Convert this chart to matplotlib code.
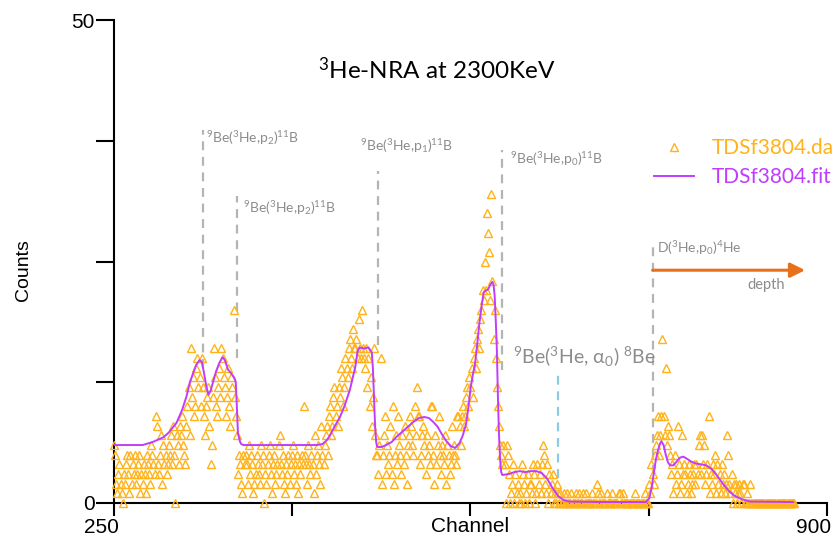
import numpy as np
import matplotlib
matplotlib.use('Agg')
import matplotlib.pyplot as plt
from matplotlib.transforms import ScaledTranslation


# measured counts, one value per channel starting at 250
counts = [
    6, 5, 2, 1, 3, 4, 2, 1, 0, 3,       # 250
    2, 4, 5, 3, 1, 5, 2, 4, 3, 5,       # 260
    2, 3, 4, 5, 1, 3, 2, 4, 3, 1,       # 270
    5, 4, 3, 2, 6, 5, 4, 3, 9, 8,       # 280
    4, 3, 5, 7, 2, 6, 4, 5, 3, 4,       # 290
    6, 5, 7, 4, 8, 5, 0, 7, 6, 4,       # 300
    8, 7, 9, 6, 5, 4, 8, 10, 12, 7,     # 310
    16, 11, 13, 9, 10, 14, 15, 12, 13, 10,  # 320
    15, 12, 9, 7, 10, 11, 12, 8, 4, 6,  # 330
    11, 16, 13, 10, 9, 12, 14, 11, 16, 15,  # 340
    13, 12, 9, 11, 14, 10, 8, 13, 12, 20,   # 350
    11, 9, 7, 3, 5, 4, 2, 1, 5, 4,      # 360
    5, 4, 2, 6, 3, 5, 4, 1, 2, 3,       # 370
    5, 4, 3, 2, 6, 4, 5, 0, 3, 2,       # 380
    4, 5, 6, 3, 1, 4, 5, 2, 3, 4,       # 390
    6, 7, 4, 3, 5, 2, 1, 4, 3, 5,       # 400
    2, 4, 5, 6, 3, 4, 2, 5, 1, 4,       # 410
    3, 5, 4, 10, 5, 4, 2, 6, 4, 3,      # 420
    5, 4, 1, 7, 3, 5, 6, 4, 2, 8,       # 430
    5, 4, 6, 7, 8, 5, 9, 10, 7, 8,      # 440
    11, 12, 9, 10, 8, 12, 11, 14, 13, 10,   # 450
    12, 15, 14, 13, 16, 17, 15, 14, 18, 16,  # 460
    16, 17, 15, 19, 16, 15, 20, 16, 15, 14,  # 470
    16, 12, 15, 10, 13, 8, 11, 16, 7, 5,    # 480
    5, 3, 6, 15, 2, 5, 7, 9, 3, 6,      # 490
    4, 5, 8, 3, 10, 2, 5, 7, 4, 9,      # 500
    6, 5, 3, 7, 4, 8, 5, 2, 6, 7,       # 510
    9, 8, 6, 5, 10, 7, 12, 9, 9, 4,     # 520
    5, 7, 8, 6, 3, 7, 5, 6, 4, 10,      # 530
    10, 5, 2, 7, 4, 6, 9, 5, 3, 6,      # 540
    5, 4, 7, 2, 6, 5, 3, 4, 8, 5,       # 550
    6, 5, 4, 9, 9, 8, 6, 9, 10, 8,      # 560
    9, 11, 12, 10, 13, 12, 14, 11, 15, 16,  # 570
    14, 17, 18, 16, 19, 20, 22, 21, 25, 22,  # 580
    30, 28, 26, 21, 32, 23, 17, 20, 15, 12,  # 590
    10, 8, 6, 5, 4, 6, 4, 0, 6, 5,      # 600
    3, 0, 1, 2, 4, 0, 3, 1, 2, 0,       # 610
    1, 0, 4, 3, 2, 0, 1, 3, 0, 2,       # 620
    2, 1, 4, 3, 0, 1, 4, 2, 3, 1,       # 630
    4, 6, 5, 2, 1, 4, 0, 3, 1, 2,       # 640
    3, 0, 1, 0, 2, 1, 0, 1, 0, 0,       # 650
    1, 0, 0, 1, 0, 0, 0, 1, 0, 0,       # 660
    0, 1, 0, 0, 1, 0, 0, 0, 1, 0,       # 670
    1, 0, 0, 0, 0, 0, 1, 0, 0, 0,       # 680
    2, 1, 0, 0, 1, 0, 0, 0, 0, 1,       # 690
    0, 0, 0, 0, 1, 0, 0, 0, 0, 0,       # 700
    1, 1, 0, 0, 1, 0, 0, 0, 0, 0,       # 710
    0, 0, 0, 0, 0, 1, 0, 0, 0, 0,       # 720
    0, 0, 0, 0, 1, 0, 0, 0, 2, 1,       # 730
    4, 3, 2, 5, 6, 7, 9, 5, 7, 9,       # 740
    17, 9, 7, 14, 6, 8, 7, 5, 3, 4,     # 750
    1, 5, 2, 3, 8, 4, 1, 2, 7, 3,       # 760
    4, 3, 1, 2, 4, 3, 1, 2, 3, 4,       # 770
    2, 4, 3, 6, 7, 3, 7, 4, 6, 2,       # 780
    3, 4, 9, 1, 3, 2, 4, 3, 5, 1,       # 790
    4, 2, 3, 1, 4, 2, 3, 1, 2, 7,       # 800
    5, 2, 1, 3, 0, 2, 1, 2, 0, 1,       # 810
    2, 1, 0, 2, 2, 0, 0, 1, 0, 0,       # 820
    2, 0, 0, 0, 0, 0, 0, 0, 0, 0,       # 830
    0, 0, 0, 0, 0, 0, 0, 0, 0, 0,       # 840
    0, 0, 0, 0, 0, 0, 0, 0, 0, 0,       # 850
    0, 0, 0, 0, 0, 0, 0, 0, 0, 0,       # 860
    0,                                  # 870
]
channels = np.arange(250, 250 + len(counts))

# simulated fit
fit_ch = [250, 276, 285, 295, 300, 307, 312, 316, 319, 322,
          325, 328, 330, 332, 334, 336, 338, 340, 343, 346,
          349, 351, 354, 357, 360, 361, 362, 363, 365, 366,
          368, 435, 440, 444, 447, 451, 456, 460, 465, 470,
          472, 474, 478, 482, 485, 486, 487, 488, 489, 490,
          494, 498, 503, 508, 513, 518, 523, 528, 533, 537,
          541, 545, 549, 553, 557, 561, 565, 568, 571, 573,
          575, 577, 579, 581, 583, 585, 587, 589, 591, 593,
          595, 596, 597, 598, 599, 600, 601, 602, 603, 604,
          610, 615, 620, 625, 630, 635, 640, 645, 650, 655,
          660, 665, 700, 735, 738, 740, 742, 744, 746, 748,
          749, 751, 753, 755, 757, 760, 763, 766, 769, 772,
          776, 780, 785, 790, 795, 800, 805, 810, 815, 820,
          825, 830, 869]
fit_val = [6.0, 6.0, 6.3, 6.8, 7.3, 8.3, 9.6, 11.0, 12.4, 13.4,
           14.3, 14.8, 14.6, 13.5, 12.2, 11.2, 11.6, 12.4, 13.6, 14.5,
           15.1, 14.8, 13.8, 13.4, 12.9, 12.5, 10.0, 7.2, 6.3, 6.1,
           6.0, 6.0, 6.1, 6.5, 7.0, 7.9, 8.9, 10.0, 11.7, 14.1,
           15.7, 16.1, 16.0, 16.1, 15.6, 14.0, 11.0, 8.0, 6.3, 5.8,
           5.8, 6.0, 6.3, 6.9, 7.4, 7.9, 8.4, 8.8, 8.9, 8.8,
           8.4, 7.9, 7.1, 6.4, 5.9, 5.7, 6.2, 7.0, 8.2, 9.8,
           11.8, 13.2, 14.3, 16.3, 18.5, 20.3, 21.8, 22.0, 22.1, 22.6,
           22.9, 22.6, 21.5, 19.0, 16.0, 11.0, 7.0, 4.5, 3.2, 2.9,
           3.0, 3.2, 3.3, 3.2, 3.3, 3.3, 3.1, 2.5, 1.5, 0.7,
           0.3, 0.15, 0.1, 0.1, 0.5, 1.5, 3.0, 4.5, 5.5, 6.2,
           6.4, 6.0, 5.0, 4.2, 3.9, 3.9, 4.3, 4.7, 4.8, 4.6,
           4.3, 4.1, 4.0, 3.9, 3.5, 2.8, 2.0, 1.3, 0.8, 0.5,
           0.3, 0.15, 0.1]

# reaction markers
lines_x = [331, 362, 491, 604, 741]
lines_top = [38.6, 31.8, 34.4, 36.5, 26.8]
lines_bot = [14.0, 15.0, 16.4, 13.8, 3.0]
labels = ['$^{9}$Be($^{3}$He,p$_{2}$)$^{11}$B', '$^{9}$Be($^{3}$He,p$_{2}$)$^{11}$B',
          '$^{9}$Be($^{3}$He,p$_{1}$)$^{11}$B', '$^{9}$Be($^{3}$He,p$_{0}$)$^{11}$B',
          'D($^{3}$He,p$_{0}$)$^{4}$He']
label_x = [334, 368, 474, 611, 745]
label_y = [37.8, 30.5, 37.0, 35.6, 26.4]

alpha_x = 655
alpha_top, alpha_bot = 13.5, 2.6
alpha_label = '$^{9}$Be($^{3}$He, α$_{0}$) $^{8}$Be'

orange = '#FFB21A'
purple = '#C03CFF'
grey = '#8C8C8C'
fam = ['Lato', 'DejaVu Sans']

plt.rcParams['font.family'] = ['Liberation Sans', 'DejaVu Sans']
plt.rcParams['mathtext.fontset'] = 'custom'
plt.rcParams['mathtext.rm'] = 'Lato'
plt.rcParams['mathtext.it'] = 'Lato:italic'
plt.rcParams['mathtext.bf'] = 'Lato:bold'

fig = plt.figure(figsize=(8.38, 5.38), dpi=100)
ax = fig.add_axes([114/838, 1-503/538, (827-114)/838, (503-20)/538])

ax.plot(channels, counts, ls='none', marker='^', ms=6, mfc='none',
        mec=orange, mew=1.0, clip_on=False, label='TDSf3804.da', zorder=3)
ax.plot(fit_ch, fit_val, color=purple, lw=1.4, label='TDSf3804.fit', zorder=4)

for i in range(len(lines_x)):
    ax.plot([lines_x[i], lines_x[i]], [lines_bot[i], lines_top[i]], color='#B4B4B4',
            lw=1.6, ls=(0, (4, 3)), zorder=2)
    ax.text(label_x[i], label_y[i], labels[i], color=grey, fontsize=10,
            family=fam, va='center', ha='left')

ax.plot([alpha_x, alpha_x], [alpha_bot, alpha_top], color='#8FCBE0', lw=1.6,
        ls=(0, (4, 3)), zorder=2)
ax.text(614, 15.1, alpha_label, color=grey, fontsize=14, family=fam,
        va='center', ha='left')

ax.annotate('', xy=(880, 24.1), xytext=(741, 24.1),
            arrowprops=dict(arrowstyle='-|>', color='#E8701A', lw=2.2,
                            mutation_scale=22, shrinkA=0, shrinkB=0),
            annotation_clip=False)
ax.text(862, 22.6, 'depth', color=grey, fontsize=10.5, family=fam,
        ha='right', va='center')

fig.text(437/838, 1-70/538, '$^{3}$He-NRA at 2300KeV', fontsize=17.5, family=fam,
         ha='center', va='center')

ax.set_xlim(250, 900)
ax.set_ylim(0, 50)
ax.set_xticks([250, 412.5, 575, 737.5, 900])
ax.set_xticklabels(['250', '', '', '', '900'])
ax.set_yticks([0, 12.5, 25, 37.5, 50])
ax.set_yticklabels(['0', '', '', '', '50'])
ax.tick_params(axis='x', direction='out', length=9.5, width=1.5, labelsize=15, pad=1)
ax.tick_params(axis='y', direction='out', length=13, width=1.5, labelsize=15, pad=1)
for lab in ax.get_xticklabels():
    lab.set_transform(lab.get_transform() + ScaledTranslation(-13/100, 0, fig.dpi_scale_trans))
for s in ['top', 'right']:
    ax.spines[s].set_visible(False)
for s in ['left', 'bottom']:
    ax.spines[s].set_linewidth(1.5)

ax.set_xlabel('Channel', fontsize=15)
ax.set_ylabel('Counts', fontsize=14)
ax.xaxis.set_label_coords((470-114)/713, -14/483)
ax.yaxis.set_label_coords(-82/713, (503-270)/483)

leg = ax.legend(loc='upper left', bbox_to_anchor=(654/838, 1-138/538),
                bbox_transform=fig.transFigure, frameon=False,
                handlelength=1.9, handletextpad=0.85, labelspacing=0.45,
                borderpad=0, borderaxespad=0, labelcolor=[orange, purple],
                prop={'family': fam, 'size': 15})

plt.savefig('out.png', dpi=100)
plt.close()
